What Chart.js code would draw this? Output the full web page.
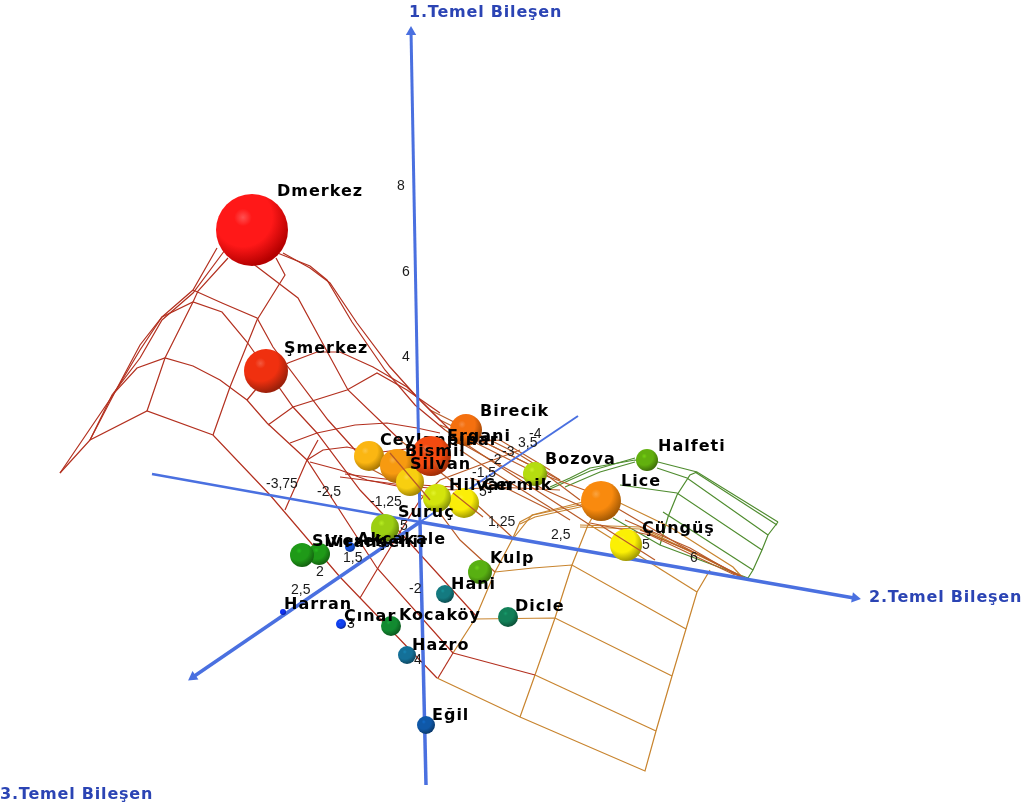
<!DOCTYPE html>
<html>
<head>
<meta charset="utf-8">
<title>Temel Bileşen</title>
<script src="https://cdn.jsdelivr.net/npm/chart.js@4"></script>
<style>
    html, body { margin: 0; padding: 0; background: #fff; }
    canvas { display: block; filter: blur(0.4px); }
</style>
</head>
<body>
<canvas id="pca-chart" width="1031" height="810"></canvas>
<script>
// Districts in the plane of the 3D view
const districts = ['Dmerkez', 'Şmerkez', 'Birecik', 'Ceylanpınar', 'Bismil', 'Silvan', 'Suruç', 'Çermik', 'Hilvan', 'Bozova', 'Lice', 'Halfeti', 'Çüngüş', 'Akçakale', 'Viranşehir', 'Siverek', 'Kulp', 'Hani', 'Dicle', 'Kocaköy', 'Çınar', 'Harran', 'Hazro', 'Eğil', 'Ergani'];
const districtX = [252, 266, 466, 369, 397, 410, 385, 464, 437, 535, 601, 647, 626, 350, 319, 302, 480, 445, 508, 391, 341, 283, 407, 426, 431];
const districtY = [230, 371, 430, 456, 466, 482, 528, 503, 498, 474, 501, 460, 545, 547, 554, 555, 572, 594, 617, 626, 624, 612, 655, 725, 456];
const districtSize = [36, 22, 16, 15, 17, 14, 14, 15, 14, 12, 20, 11, 16, 5, 11, 12, 12, 9, 10, 10, 5, 3, 9, 9, 20];
const districtColors = ['#ff1818', '#f0300f', '#f4700f', '#fbb612', '#f79a10', '#f8cf10', '#9ccf12', '#fbee08', '#d3e40c', '#b5dc10', '#f98a0e', '#62b00e', '#fbf005', '#1450d8', '#1f9a18', '#1f9a18', '#58b012', '#147a80', '#128058', '#128a30', '#0f40f0', '#0f30f0', '#147098', '#0f58a8', '#f44a10'];

const labelX = [277, 284, 480, 380, 405, 410, 398, 483, 449, 545, 621, 658, 642, 357, 325, 312, 490, 451, 515, 399, 344, 284, 412, 432, 447];
const labelY = [192, 349, 412, 441, 452, 465, 513, 486, 486, 460, 482, 447, 529, 540, 543, 542, 559, 585, 607, 616, 617, 605, 646, 716, 437];

// Tick labels of the three axes
const tickLabels = ['8', '6', '4', '-2', '4', '-3,75', '-2,5', '-1,25', '1,25', '2,5', '5', '6', '1,5', '2', '2,5', '3', '-4', '3,5', '-3', '-2', '-1,5', '5', '5'];
const tickX = [397, 402, 402, 409, 414, 266, 317, 370, 488, 551, 642, 690, 343, 316, 291, 347, 529, 518, 502, 489, 472, 479, 400];
const tickY = [186, 272, 357, 589, 660, 484, 492, 502, 522, 535, 545, 558, 558, 572, 590, 624, 434, 443, 452, 460, 473, 492, 526];

const axisTitles = ['1.Temel Bileşen', '2.Temel Bileşen', '3.Temel Bileşen'];
const axisTitleX = [409, 869, 0];
const axisTitleY = [13, 598, 795];

// Axis lines, each split at the common origin
const axis1Up = [[420, 522], [411, 30]];
const axis1Down = [[420, 522], [426, 785]];
const axis2Left = [[420, 522], [152, 474]];
const axis2Right = [[420, 522], [854, 598]];
const axis3Back = [[420, 522], [578, 416]];
const axis3Front = [[420, 522], [193, 677]];
const arrowTips = [[411, 32], [855, 598], [193, 677]];
const arrowAngles = [0, 100, 235];

// Surface mesh polylines, grouped by the colour band of the surface
const meshRed = [
    [[60, 473], [90, 440], [147, 411], [213, 435], [270, 495], [340, 577], [437, 678]],
    [[60, 473], [115, 392], [140, 345], [162, 317], [193, 290], [217, 248]],
    [[90, 440], [112, 395], [140, 358], [162, 320], [193, 293], [225, 250]],
    [[90, 440], [115, 392], [137, 368], [165, 358], [193, 366], [220, 380], [247, 400], [267, 423], [307, 460], [377, 568], [453, 653]],
    [[115, 392], [140, 350], [162, 317], [193, 302], [222, 312], [247, 342], [293, 407], [317, 433], [360, 490], [398, 530], [477, 617]],
    [[193, 290], [222, 303], [257, 318], [273, 347], [328, 420], [373, 470]],
    [[235, 250], [298, 298], [348, 390], [400, 440]],
    [[283, 253], [310, 268], [330, 283], [357, 323], [390, 367], [417, 397], [440, 420]],
    [[270, 250], [310, 266], [327, 280], [352, 322], [385, 370], [415, 405], [445, 430]],
    [[147, 411], [165, 358], [193, 302], [198, 291], [228, 258]],
    [[213, 435], [230, 387], [257, 320], [285, 275], [276, 258]],
    [[247, 400], [262, 382], [288, 363], [317, 352], [340, 352], [373, 367], [407, 387], [450, 430]],
    [[268, 425], [293, 407], [347, 390], [377, 373], [407, 390], [440, 413]],
    [[290, 443], [317, 433], [355, 425], [387, 423], [417, 428], [440, 433]],
    [[285, 510], [307, 460], [318, 440]],
    [[307, 460], [323, 450], [347, 447], [373, 453], [440, 445]],
    [[310, 462], [340, 470], [367, 480], [407, 488]],
    [[360, 598], [378, 568], [400, 532], [420, 500]],
    [[340, 477], [380, 482], [417, 487], [453, 490]],
    [[345, 474], [385, 479], [420, 485], [453, 487]],
    [[438, 678], [453, 653]],
    [[453, 653], [535, 675]]
];
const meshRust = [
    [[373, 470], [430, 500], [460, 540], [495, 572]],
    [[400, 440], [450, 480], [512, 537]],
    [[440, 420], [500, 450], [560, 480]],
    [[445, 430], [505, 470], [590, 525]],
    [[420, 500], [440, 480], [480, 465], [520, 450]],
    [[440, 445], [500, 440], [550, 470]],
    [[453, 490], [497, 487], [560, 490]],
    [[470, 440], [530, 470], [620, 503]],
    [[430, 410], [470, 430], [520, 455], [560, 480]],
    [[440, 425], [490, 445], [540, 470], [580, 500]],
    [[450, 437], [500, 465], [545, 490], [590, 510]],
    [[460, 450], [490, 470], [530, 495], [570, 520]],
    [[470, 478], [510, 490], [550, 510]],
    [[615, 507], [680, 545], [742, 577]],
    [[625, 520], [690, 548], [740, 577]],
    [[590, 523], [650, 535], [735, 575]],
    [[640, 530], [700, 555], [745, 578]]
];
const meshOrange = [
    [[437, 678], [520, 717], [645, 771], [656, 731], [672, 676], [686, 629], [697, 592], [710, 570]],
    [[453, 653], [475, 619], [495, 572], [512, 540], [532, 515], [583, 502]],
    [[535, 675], [656, 731]],
    [[475, 619], [555, 618], [672, 676]],
    [[495, 572], [533, 568], [572, 565], [686, 629]],
    [[520, 717], [535, 675], [555, 618], [572, 565], [588, 525], [595, 513]],
    [[512, 540], [520, 522], [533, 515], [580, 505], [600, 500]],
    [[520, 524], [535, 517], [580, 507], [600, 503]],
    [[590, 525], [697, 592]],
    [[620, 503], [670, 527], [733, 567], [742, 577]],
    [[580, 525], [640, 527], [743, 577]],
    [[580, 527], [640, 529], [700, 556]]
];
const meshGreen = [
    [[550, 487], [570, 478], [590, 468], [635, 460], [658, 462], [697, 472], [778, 522]],
    [[550, 489], [590, 471], [635, 458]],
    [[565, 487], [600, 472], [635, 462]],
    [[695, 472], [777, 525]],
    [[657, 468], [687, 478], [768, 535]],
    [[620, 485], [677, 493], [762, 550]],
    [[663, 512], [753, 570]],
    [[778, 522], [768, 535], [762, 550], [753, 570], [748, 578]],
    [[697, 472], [690, 475], [677, 495], [668, 517], [660, 545]],
    [[613, 518], [660, 545], [748, 578]]
];
// These few pass in front of the spheres
const meshFront = [
    [[390, 453], [430, 500]],
    [[423, 447], [440, 470]],
    [[453, 493], [483, 517]],
    [[600, 525], [655, 560]]
];

const meshColors = { red: '#b3301f', rust: '#b85a28', orange: '#c8842e', green: '#4f8c2f' };
const axisColor = '#4a70e0';

function toPoints(pairs) {
    return pairs.map(pair => ({ x: pair[0], y: pair[1] }));
}

function meshDatasets(lines, color, order) {
    return lines.map(line => ({
        type: 'line',
        data: toPoints(line),
        borderColor: color,
        borderWidth: 1.2,
        pointRadius: 0,
        tension: 0,
        order: order
    }));
}

function axisDataset(line, width) {
    return {
        type: 'line',
        data: toPoints(line),
        borderColor: axisColor,
        borderWidth: width,
        pointRadius: 0,
        tension: 0,
        order: 20
    };
}

// Shaded ball, lit from the upper left
function sphereFill(context) {
    const raw = context.raw;
    if (!raw) {
        return '#000';
    }
    const chart = context.chart;
    const px = chart.scales.x.getPixelForValue(raw.x);
    const py = chart.scales.y.getPixelForValue(raw.y);
    const base = districtColors[context.dataIndex + (context.dataset.firstIndex || 0)];
    // The scales have no size yet on the first pass through the layout
    if (!isFinite(px) || !isFinite(py)) {
        return base;
    }
    const lightX = px - raw.r * 0.25;
    const lightY = py - raw.r * 0.35;
    const gradient = chart.ctx.createRadialGradient(lightX, lightY, 0, lightX, lightY, raw.r * 1.35);
    gradient.addColorStop(0, Chart.helpers.color(base).lighten(0.2).rgbString());
    gradient.addColorStop(0.18, base);
    gradient.addColorStop(0.6, base);
    gradient.addColorStop(1, Chart.helpers.color(base).darken(0.35).rgbString());
    return gradient;
}

const spheres = districts.map((name, i) => ({ x: districtX[i], y: districtY[i], r: districtSize[i] }));

function sphereDataset(first, last, order) {
    return {
        type: 'bubble',
        data: spheres.slice(first, last),
        firstIndex: first,
        backgroundColor: sphereFill,
        borderWidth: 0,
        hoverBorderWidth: 0,
        order: order
    };
}

function drawText(chart, text, x, y, font, color, spacing) {
    const ctx = chart.ctx;
    ctx.font = font;
    ctx.letterSpacing = spacing;
    ctx.fillStyle = color;
    ctx.textAlign = 'left';
    ctx.textBaseline = 'middle';
    ctx.fillText(text, chart.scales.x.getPixelForValue(x), chart.scales.y.getPixelForValue(y));
}

const LABEL_FONT = 'bold 16px "DejaVu Sans"';
const TICK_FONT = '14px "Liberation Sans"';

// Ticks and names; Ceylanpınar sits behind the Ergani ball, so it goes first
const chartText = {
    id: 'chartText',
    afterDatasetDraw: function(chart, args) {
        if (chart.data.datasets[args.index].firstIndex !== 0) {
            return;
        }
        chart.ctx.save();
        drawText(chart, districts[3], labelX[3], labelY[3], LABEL_FONT, '#000', '1px');
        chart.ctx.restore();
    },
    afterDatasetsDraw: function(chart) {
        const ctx = chart.ctx;
        ctx.save();
        tickLabels.forEach((label, i) => {
            drawText(chart, label, tickX[i], tickY[i], TICK_FONT, '#1a1a1a', '0px');
        });
        districts.forEach((name, i) => {
            if (i !== 3) {
                drawText(chart, name, labelX[i], labelY[i], LABEL_FONT, '#000', '1px');
            }
        });
        axisTitles.forEach((title, i) => {
            drawText(chart, title, axisTitleX[i], axisTitleY[i], LABEL_FONT, '#2b44b4', '0.8px');
        });
        ctx.restore();
    }
};

const pcaChart = new Chart(document.getElementById('pca-chart').getContext('2d'), {
    data: {
        datasets: [
            ...meshDatasets(meshRed, meshColors.red, 30),
            ...meshDatasets(meshRust, meshColors.rust, 30),
            ...meshDatasets(meshOrange, meshColors.orange, 30),
            ...meshDatasets(meshGreen, meshColors.green, 30),
            axisDataset(axis1Up, 3),
            axisDataset(axis1Down, 3.5),
            axisDataset(axis2Left, 2.5),
            axisDataset(axis2Right, 3.5),
            axisDataset(axis3Back, 2),
            axisDataset(axis3Front, 3.5),
            {
                type: 'scatter',
                data: toPoints(arrowTips),
                pointStyle: 'triangle',
                pointRadius: 6,
                pointRotation: arrowAngles,
                backgroundColor: axisColor,
                borderWidth: 0,
                order: 20
            },
            sphereDataset(0, 24, 10),
            sphereDataset(24, 25, 9),
            ...meshDatasets(meshFront, meshColors.rust, 5)
        ]
    },
    options: {
        responsive: false,
        animation: false,
        layout: { padding: 0, autoPadding: false },
        plugins: {
            legend: { display: false },
            tooltip: { enabled: false }
        },
        scales: {
            x: { type: 'linear', display: false, min: 0, max: 1031 },
            y: { type: 'linear', display: false, min: 0, max: 810, reverse: true }
        }
    },
    plugins: [chartText]
});
</script>
</body>
</html>
